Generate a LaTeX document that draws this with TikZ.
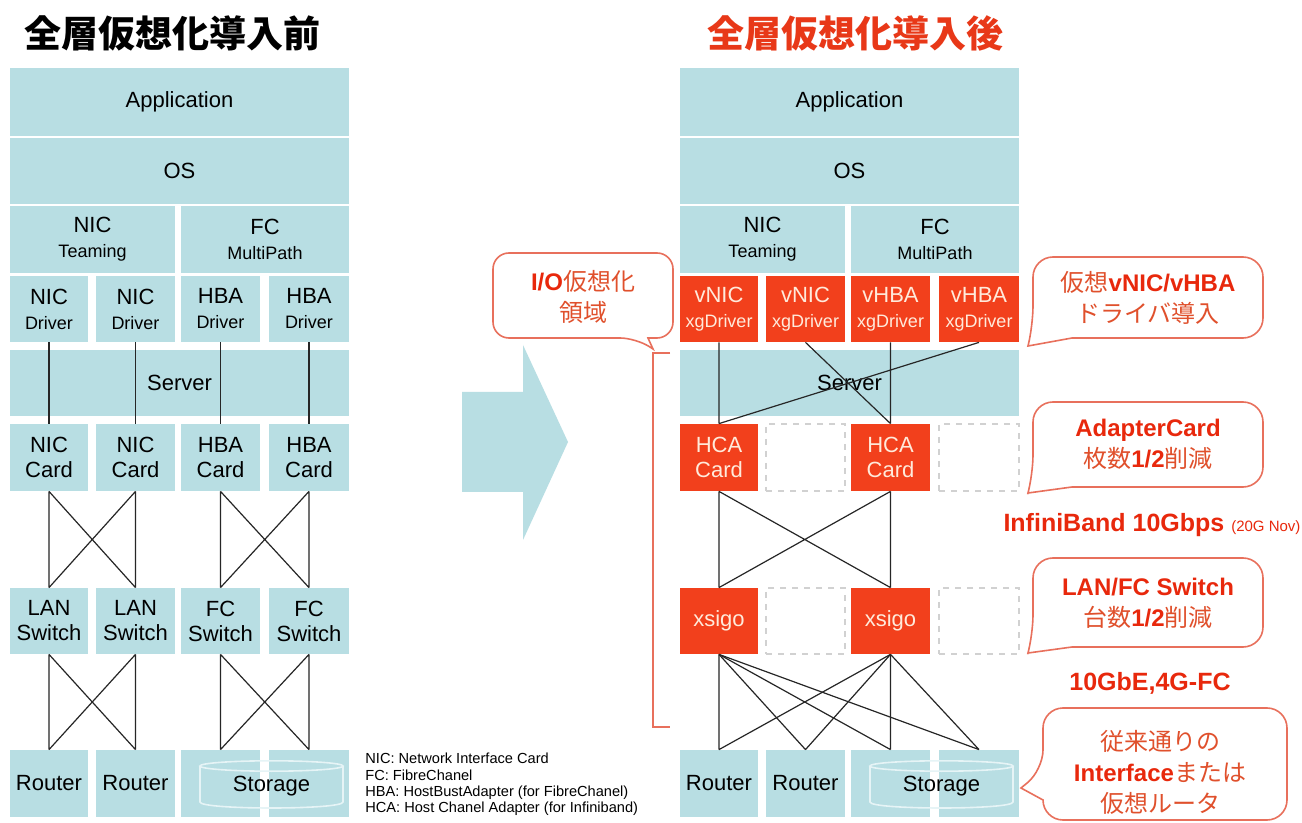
\documentclass[tikz,border=0pt]{standalone}
\usepackage{fontspec}
\setmainfont{Liberation Sans}
\newfontfamily\jp{Noto Sans CJK JP}
\definecolor{lb}{HTML}{B8DEE3}
\definecolor{rb}{HTML}{F2401C}
\definecolor{cream}{HTML}{FFEADB}
\definecolor{cr}{HTML}{E8705C}
\definecolor{jt}{HTML}{E0502C}
\definecolor{bt}{HTML}{E8280C}
\definecolor{tr}{HTML}{E83818}
\definecolor{cyl}{HTML}{E6F4F6}
\newcommand\smalltxt[1]{{\fontsize{9}{10}\selectfont #1}}
\newcommand\bl[1]{{\bfseries\color{bt}#1}}
\begin{document}
\begin{tikzpicture}[x=0.5pt,y=-0.5pt,
  bx/.style n args={4}{minimum width={(#3-#1)*0.5pt}, minimum height={(#4-#2)*0.5pt}, at={({(#1+#3)/2},{(#2+#4)/2})}},
  blk/.style={fill=lb, draw=none, inner sep=0pt, align=center, font=\fontsize{11}{12.5}\selectfont},
  rbox/.style={blk, fill=rb, text=cream},
  dsh/.style={draw=black!18, dashed, fill=white, inner sep=0pt, line width=0.6pt},
  wire/.style={draw=black!85, line width=0.6pt},
  cl/.style={draw=cr, line width=0.8pt, fill=white},
  cyls/.style={draw=cyl, line width=0.8pt},
  ctext/.style={align=center, text=jt, inner sep=0pt, font=\fontsize{12}{15.5}\selectfont},
  redtext/.style={text=bt, inner sep=0pt, font=\bfseries\fontsize{12.5}{14}\selectfont},
  note/.style={align=left, anchor=north west, inner sep=0pt, font=\fontsize{7.3}{8.1}\selectfont}
]
\fill[white] (0,0) rectangle (1302,823);
\useasboundingbox (0,0) rectangle (1302,823);

% ---------- titles ----------
\node[inner sep=0pt, font=\jp\bfseries\fontsize{18.5}{20}\selectfont] (tL) at (173,33) {全層仮想化導入前};
\node[inner sep=0pt, text=tr, font=\jp\bfseries\fontsize{18.5}{20}\selectfont] (tR) at (855,33) {全層仮想化導入後};

% ---------- left stack ----------
\node[blk, bx={10}{68}{349}{136}] (appL) {Application};
\node[blk, bx={10}{138}{349}{204}] (osL) {OS};
\node[blk, bx={10}{206}{175}{273}] (tmL) {NIC\\\smalltxt{Teaming}};
\node[blk, bx={181}{206}{349}{273}] (mpL) {FC\\\smalltxt{MultiPath}};
\node[blk, bx={10}{276}{88}{342}] (dL1) {NIC\\\smalltxt{Driver}};
\node[blk, bx={96}{276}{175}{342}] (dL2) {NIC\\\smalltxt{Driver}};
\node[blk, bx={181}{276}{260}{342}] (dL3) {HBA\\\smalltxt{Driver}};
\node[blk, bx={269}{276}{349}{342}] (dL4) {HBA\\\smalltxt{Driver}};
\node[blk, bx={10}{350}{349}{416}] (srvL) {Server};
\node[blk, bx={10}{424}{88}{491}] (cL1) {NIC\\Card};
\node[blk, bx={96}{424}{175}{491}] (cL2) {NIC\\Card};
\node[blk, bx={181}{424}{260}{491}] (cL3) {HBA\\Card};
\node[blk, bx={269}{424}{349}{491}] (cL4) {HBA\\Card};
\node[blk, bx={10}{588}{88}{654}] (sL1) {LAN\\Switch};
\node[blk, bx={96}{588}{175}{654}] (sL2) {LAN\\Switch};
\node[blk, bx={181}{588}{260}{654}] (sL3) {FC\\Switch};
\node[blk, bx={269}{588}{349}{654}] (sL4) {FC\\Switch};
\node[blk, bx={10}{750}{88}{817}] (bL1) {Router};
\node[blk, bx={96}{750}{175}{817}] (bL2) {Router};
\node[blk, bx={181}{750}{260}{817}] (bL3) {};
\node[blk, bx={269}{750}{349}{817}] (bL4) {};
\draw[cyls] (200,766) -- (200,802) .. controls (200,810) and (343,810) .. (343,802) -- (343,766);
\draw[cyls] (271.5,766) ellipse [x radius=35.75pt, y radius=2.6pt];
\node[inner sep=0pt, font=\fontsize{11}{12.5}\selectfont] (stL) at (271.5,786) {Storage};

\foreach \i in {1,2,3,4} { \draw[wire] (dL\i.south) -- (cL\i.north); }
\draw[wire] (cL1.south) -- (sL1.north) (cL1.south) -- (sL2.north) (cL2.south) -- (sL1.north) (cL2.south) -- (sL2.north);
\draw[wire] (cL3.south) -- (sL3.north) (cL3.south) -- (sL4.north) (cL4.south) -- (sL3.north) (cL4.south) -- (sL4.north);
\draw[wire] (sL1.south) -- (bL1.north) (sL1.south) -- (bL2.north) (sL2.south) -- (bL1.north) (sL2.south) -- (bL2.north);
\draw[wire] (sL3.south) -- (bL3.north) (sL3.south) -- (bL4.north) (sL4.south) -- (bL3.north) (sL4.south) -- (bL4.north);

% ---------- footnote ----------
\node[note] (nt) at (365,753) {NIC: Network Interface Card\\FC: FibreChanel\\HBA: HostBustAdapter (for FibreChanel)\\HCA: Host Chanel Adapter (for Infiniband)};

% ---------- big arrow ----------
\fill[lb] (462,392) -- (523,392) -- (523,345) -- (568,442) -- (523,540) -- (523,492) -- (462,492) -- cycle;

% ---------- right stack ----------
\node[blk, bx={680}{68}{1019}{136}] (appR) {Application};
\node[blk, bx={680}{138}{1019}{204}] (osR) {OS};
\node[blk, bx={680}{206}{845}{273}] (tmR) {NIC\\\smalltxt{Teaming}};
\node[blk, bx={851}{206}{1019}{273}] (mpR) {FC\\\smalltxt{MultiPath}};
\node[rbox, bx={680}{276}{758}{342}] (vR1) {vNIC\\\smalltxt{xgDriver}};
\node[rbox, bx={766}{276}{845}{342}] (vR2) {vNIC\\\smalltxt{xgDriver}};
\node[rbox, bx={851}{276}{930}{342}] (vR3) {vHBA\\\smalltxt{xgDriver}};
\node[rbox, bx={939}{276}{1019}{342}] (vR4) {vHBA\\\smalltxt{xgDriver}};
\node[blk, bx={680}{350}{1019}{416}] (srvR) {Server};
\node[rbox, bx={680}{424}{758}{491}] (hca1) {HCA\\Card};
\node[dsh, bx={766}{424}{845}{491}] (e1) {};
\node[rbox, bx={851}{424}{930}{491}] (hca2) {HCA\\Card};
\node[dsh, bx={939}{424}{1019}{491}] (e2) {};
\node[rbox, bx={680}{588}{758}{654}] (xs1) {xsigo};
\node[dsh, bx={766}{588}{845}{654}] (e3) {};
\node[rbox, bx={851}{588}{930}{654}] (xs2) {xsigo};
\node[dsh, bx={939}{588}{1019}{654}] (e4) {};
\node[blk, bx={680}{750}{758}{817}] (bR1) {Router};
\node[blk, bx={766}{750}{845}{817}] (bR2) {Router};
\node[blk, bx={851}{750}{930}{817}] (bR3) {};
\node[blk, bx={939}{750}{1019}{817}] (bR4) {};
\draw[cyls] (870,766) -- (870,802) .. controls (870,810) and (1013,810) .. (1013,802) -- (1013,766);
\draw[cyls] (941.5,766) ellipse [x radius=35.75pt, y radius=2.6pt];
\node[inner sep=0pt, font=\fontsize{11}{12.5}\selectfont] (stR) at (941.5,786) {Storage};

\draw[wire] (vR1.south) -- (hca1.north) (vR2.south) -- (hca2.north) (vR3.south) -- (hca2.north) (vR4.south) -- (hca1.north);
\draw[wire] (hca1.south) -- (xs1.north) (hca1.south) -- (xs2.north) (hca2.south) -- (xs1.north) (hca2.south) -- (xs2.north);
\foreach \i in {1,2,3,4} { \draw[wire] (xs1.south) -- (bR\i.north) (xs2.south) -- (bR\i.north); }

% ---------- bracket ----------
\draw[cr, line width=0.7pt] (670,353) -- (653,353) -- (653,727) -- (670,727);

% ---------- callouts ----------
\draw[cl] (648,338) [rounded corners=8pt] -- (673,338) -- (673,253) -- (493,253) -- (493,338) -- (636,338) [sharp corners] -- (653,349) -- cycle;
\node[ctext] (cIO) at (583,297) {\bl{I/O}{\jp 仮想化}\\{\jp 領域}};

\draw[cl] (1072,338) [rounded corners=10pt] -- (1263,338) -- (1263,257) -- (1033,257) -- (1033,326) [sharp corners] -- (1028,346) -- cycle;
\node[ctext] (c1) at (1148,298) {{\jp 仮想}\bl{vNIC/vHBA}\\{\jp ドライバ導入}};

\draw[cl] (1072,487) [rounded corners=10pt] -- (1263,487) -- (1263,402) -- (1033,402) -- (1033,475) [sharp corners] -- (1028,493) -- cycle;
\node[ctext] (c2) at (1148,444) {\bl{AdapterCard}\\{\jp 枚数}\bl{1/2}{\jp 削減}};

\draw[cl] (1072,647) [rounded corners=10pt] -- (1263,647) -- (1263,558) -- (1033,558) -- (1033,635) [sharp corners] -- (1028,653) -- cycle;
\node[ctext] (c3) at (1148,603) {\bl{LAN/FC Switch}\\{\jp 台数}\bl{1/2}{\jp 削減}};

\draw[cl] (1043,800) [rounded corners=10pt] -- (1043,820) -- (1287,820) -- (1287,708) -- (1043,708) -- (1043,770) [sharp corners] -- (1021,788) -- cycle;
\node[ctext] (c4) at (1160,772) {{\jp 従来通りの}\\\bl{Interface}{\jp または}\\{\jp 仮想ルータ}};

% ---------- red labels ----------
\node[redtext] (ib) at (1152,525) {InfiniBand 10Gbps {\mdseries\fontsize{7.5}{8}\selectfont (20G Nov)}};
\node[redtext] (ge) at (1150,683) {10GbE,4G-FC};
\end{tikzpicture}
\end{document}
